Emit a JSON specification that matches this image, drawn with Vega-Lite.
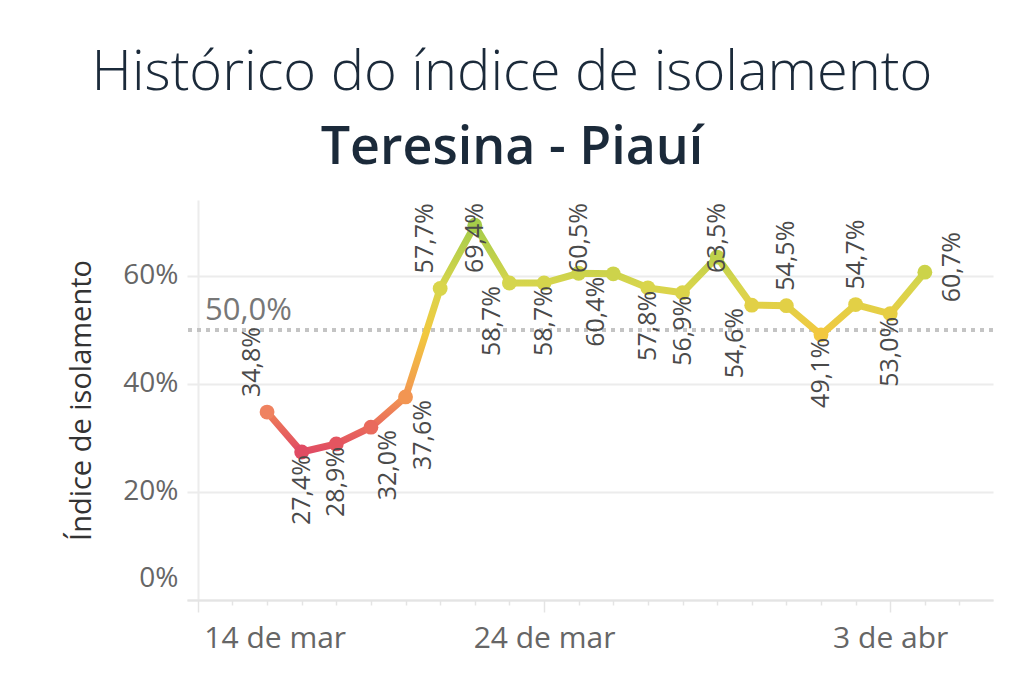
{
  "$schema": "https://vega.github.io/schema/vega-lite/v6.json",
  "autosize": {"type": "none"},
  "width": 806,
  "height": 400,
  "padding": {"left": 187, "top": 200, "right": 31, "bottom": 85},
  "background": "white",
  "title": {
    "text": "Histórico do índice de isolamento",
    "subtitle": "Teresina - Piauí",
    "anchor": "middle",
    "frame": "group",
    "dx": -78,
    "offset": 25,
    "font": "Open Sans",
    "fontSize": 56,
    "fontWeight": 300,
    "color": "#1b2a3a",
    "subtitleFont": "Open Sans",
    "subtitleFontSize": 52,
    "subtitleFontWeight": 600,
    "subtitleColor": "#1b2a3a",
    "subtitlePadding": 21
  },
  "datasets": {
    "isolamento": [
      {"data": "2020/03/16", "indice": 0.348},
      {"data": "2020/03/17", "indice": 0.274},
      {"data": "2020/03/18", "indice": 0.289},
      {"data": "2020/03/19", "indice": 0.320},
      {"data": "2020/03/20", "indice": 0.376},
      {"data": "2020/03/21", "indice": 0.577},
      {"data": "2020/03/22", "indice": 0.694},
      {"data": "2020/03/23", "indice": 0.587},
      {"data": "2020/03/24", "indice": 0.587},
      {"data": "2020/03/25", "indice": 0.605},
      {"data": "2020/03/26", "indice": 0.604},
      {"data": "2020/03/27", "indice": 0.578},
      {"data": "2020/03/28", "indice": 0.569},
      {"data": "2020/03/29", "indice": 0.635},
      {"data": "2020/03/30", "indice": 0.546},
      {"data": "2020/03/31", "indice": 0.545},
      {"data": "2020/04/01", "indice": 0.491},
      {"data": "2020/04/02", "indice": 0.547},
      {"data": "2020/04/03", "indice": 0.530},
      {"data": "2020/04/04", "indice": 0.607}
    ],
    "referencia": [{"ref": 0.5}]
  },
  "data": {"name": "isolamento"},
  "layer": [
    {
      "data": {"name": "referencia"},
      "mark": {"type": "rule", "strokeDash": [4, 5], "strokeWidth": 4, "color": "#c4c4c4"},
      "encoding": {
        "y": {
          "field": "ref",
          "type": "quantitative",
          "scale": {"domain": [0, 0.7407], "nice": false, "zero": true},
          "axis": {
            "values": [0, 0.2, 0.4, 0.6],
            "format": ".0%",
            "title": "Índice de isolamento",
            "ticks": false,
            "domain": false,
            "labelFontSize": 28,
            "labelColor": "#666666",
            "labelPadding": 9,
            "labelOffset": {"condition": {"test": "datum.value == 0", "value": -22}, "value": 0},
            "gridColor": "#ececec",
            "gridWidth": 2,
            "titleFontSize": 29,
            "titleColor": "#333333",
            "titleFontWeight": "normal",
            "titlePadding": 26
          }
        }
      }
    },
    {
      "data": {"name": "referencia"},
      "mark": {"type": "text", "align": "left", "baseline": "alphabetic", "dy": -10, "fontSize": 31, "color": "#777777"},
      "encoding": {
        "x": {"datum": {"year": 2020, "month": 3, "date": 14, "hours": 5}, "type": "temporal"},
        "y": {"field": "ref", "type": "quantitative"},
        "text": {"field": "ref", "type": "quantitative", "format": ".1%"}
      }
    },
    {
      "mark": {
        "type": "line",
        "strokeWidth": 7,
        "stroke": {
          "gradient": "linear",
          "x1": 0, "y1": 1, "x2": 0, "y2": 0,
          "stops": [
            {"offset": 0, "color": "#e04b63"},
            {"offset": 0.11, "color": "#e96a5c"},
            {"offset": 0.243, "color": "#f29552"},
            {"offset": 0.517, "color": "#f2c83f"},
            {"offset": 0.729, "color": "#d8d54c"},
            {"offset": 1, "color": "#a5cc4a"}
          ]
        }
      },
      "encoding": {
        "x": {
          "field": "data",
          "type": "temporal",
          "scale": {"domain": [
            {"year": 2020, "month": 3, "date": 13, "hours": 16, "minutes": 30},
            {"year": 2020, "month": 4, "date": 5, "hours": 23, "minutes": 15}
          ]},
          "axis": {
            "title": null,
            "tickCount": {"interval": "day", "step": 1},
            "labelExpr": "(month(datum.value) == 2 && (date(datum.value) == 14 || date(datum.value) == 24)) ? date(datum.value) + ' de mar' : ((month(datum.value) == 3 && date(datum.value) == 3) ? '3 de abr' : '')",
            "labelOverlap": false,
            "labelFlush": false,
            "labelFontSize": 30,
            "labelColor": "#666666",
            "labelPadding": 11,
            "labelAlign": {"condition": {"test": "month(datum.value) == 2 && date(datum.value) == 14", "value": "left"}, "value": "center"},
            "labelOffset": {"condition": {"test": "month(datum.value) == 2 && date(datum.value) == 14", "value": 6}, "value": 0},
            "tickSize": {"condition": {"test": "(month(datum.value) == 2 && (date(datum.value) == 14 || date(datum.value) == 24)) || (month(datum.value) == 3 && date(datum.value) == 3)", "value": 12}, "value": 5},
            "tickColor": "#e4e4e4",
            "tickWidth": 1.5,
            "domainColor": "#e4e4e4",
            "domainWidth": 2,
            "grid": true,
            "gridColor": "#ececec",
            "gridWidth": 2,
            "gridOpacity": {"condition": {"test": "month(datum.value) == 2 && date(datum.value) == 14", "value": 1}, "value": 0}
          }
        },
        "y": {"field": "indice", "type": "quantitative"}
      }
    },
    {
      "mark": {"type": "point", "filled": true, "size": 220, "opacity": 1},
      "encoding": {
        "x": {"field": "data", "type": "temporal"},
        "y": {"field": "indice", "type": "quantitative"},
        "color": {
          "field": "indice",
          "type": "quantitative",
          "scale": {
            "domain": [0.274, 0.32, 0.348, 0.376, 0.491, 0.58, 0.694],
            "range": ["#e04b63", "#e96a5c", "#ef8260", "#f29552", "#f2c83f", "#d8d54c", "#a5cc4a"]
          },
          "legend": null
        }
      }
    },
    {
      "transform": [{"filter": "indexof([31, 2], date(datum.data)) >= 0"}],
      "mark": {"type": "text", "angle": 270, "align": "left", "baseline": "middle", "dx": 15, "fontSize": 25, "color": "#4a4a4a"},
      "encoding": {
        "x": {"field": "data", "type": "temporal"},
        "y": {"field": "indice", "type": "quantitative"},
        "text": {"field": "indice", "type": "quantitative", "format": ".1%"}
      }
    },
    {
      "transform": [{"filter": "indexof([16, 21], date(datum.data)) >= 0"}],
      "mark": {"type": "text", "angle": 270, "align": "left", "baseline": "middle", "dx": 15, "dy": -15, "fontSize": 25, "color": "#4a4a4a"},
      "encoding": {
        "x": {"field": "data", "type": "temporal"},
        "y": {"field": "indice", "type": "quantitative"},
        "text": {"field": "indice", "type": "quantitative", "format": ".1%"}
      }
    },
    {
      "transform": [{"filter": "indexof([22, 25, 29], date(datum.data)) >= 0"}],
      "mark": {"type": "text", "angle": 270, "align": "right", "baseline": "middle", "fontSize": 25, "color": "#4a4a4a"},
      "encoding": {
        "x": {"field": "data", "type": "temporal"},
        "y": {"datum": 0.735, "type": "quantitative"},
        "text": {"field": "indice", "type": "quantitative", "format": ".1%"}
      }
    },
    {
      "transform": [{"filter": "indexof([17, 18, 24, 27, 28, 1, 3], date(datum.data)) >= 0"}],
      "mark": {"type": "text", "angle": 270, "align": "right", "baseline": "middle", "dx": -3, "fontSize": 25, "color": "#4a4a4a"},
      "encoding": {
        "x": {"field": "data", "type": "temporal"},
        "y": {"field": "indice", "type": "quantitative"},
        "text": {"field": "indice", "type": "quantitative", "format": ".1%"}
      }
    },
    {
      "transform": [{"filter": "indexof([19, 20], date(datum.data)) >= 0"}],
      "mark": {"type": "text", "angle": 270, "align": "right", "baseline": "middle", "dx": -3, "dy": 17, "fontSize": 25, "color": "#4a4a4a"},
      "encoding": {
        "x": {"field": "data", "type": "temporal"},
        "y": {"field": "indice", "type": "quantitative"},
        "text": {"field": "indice", "type": "quantitative", "format": ".1%"}
      }
    },
    {
      "transform": [{"filter": "indexof([23, 26, 30], date(datum.data)) >= 0"}],
      "mark": {"type": "text", "angle": 270, "align": "right", "baseline": "middle", "dx": -3, "dy": -17, "fontSize": 25, "color": "#4a4a4a"},
      "encoding": {
        "x": {"field": "data", "type": "temporal"},
        "y": {"field": "indice", "type": "quantitative"},
        "text": {"field": "indice", "type": "quantitative", "format": ".1%"}
      }
    },
    {
      "transform": [{"filter": "date(datum.data) == 4"}],
      "mark": {"type": "text", "angle": 270, "align": "center", "baseline": "middle", "dx": 5, "dy": 27, "fontSize": 25, "color": "#4a4a4a"},
      "encoding": {
        "x": {"field": "data", "type": "temporal"},
        "y": {"field": "indice", "type": "quantitative"},
        "text": {"field": "indice", "type": "quantitative", "format": ".1%"}
      }
    }
  ],
  "config": {
    "font": "Open Sans",
    "view": {"stroke": null},
    "locale": {
      "number": {"decimal": ",", "thousands": ".", "grouping": [3], "currency": ["R$", ""]}
    }
  }
}
